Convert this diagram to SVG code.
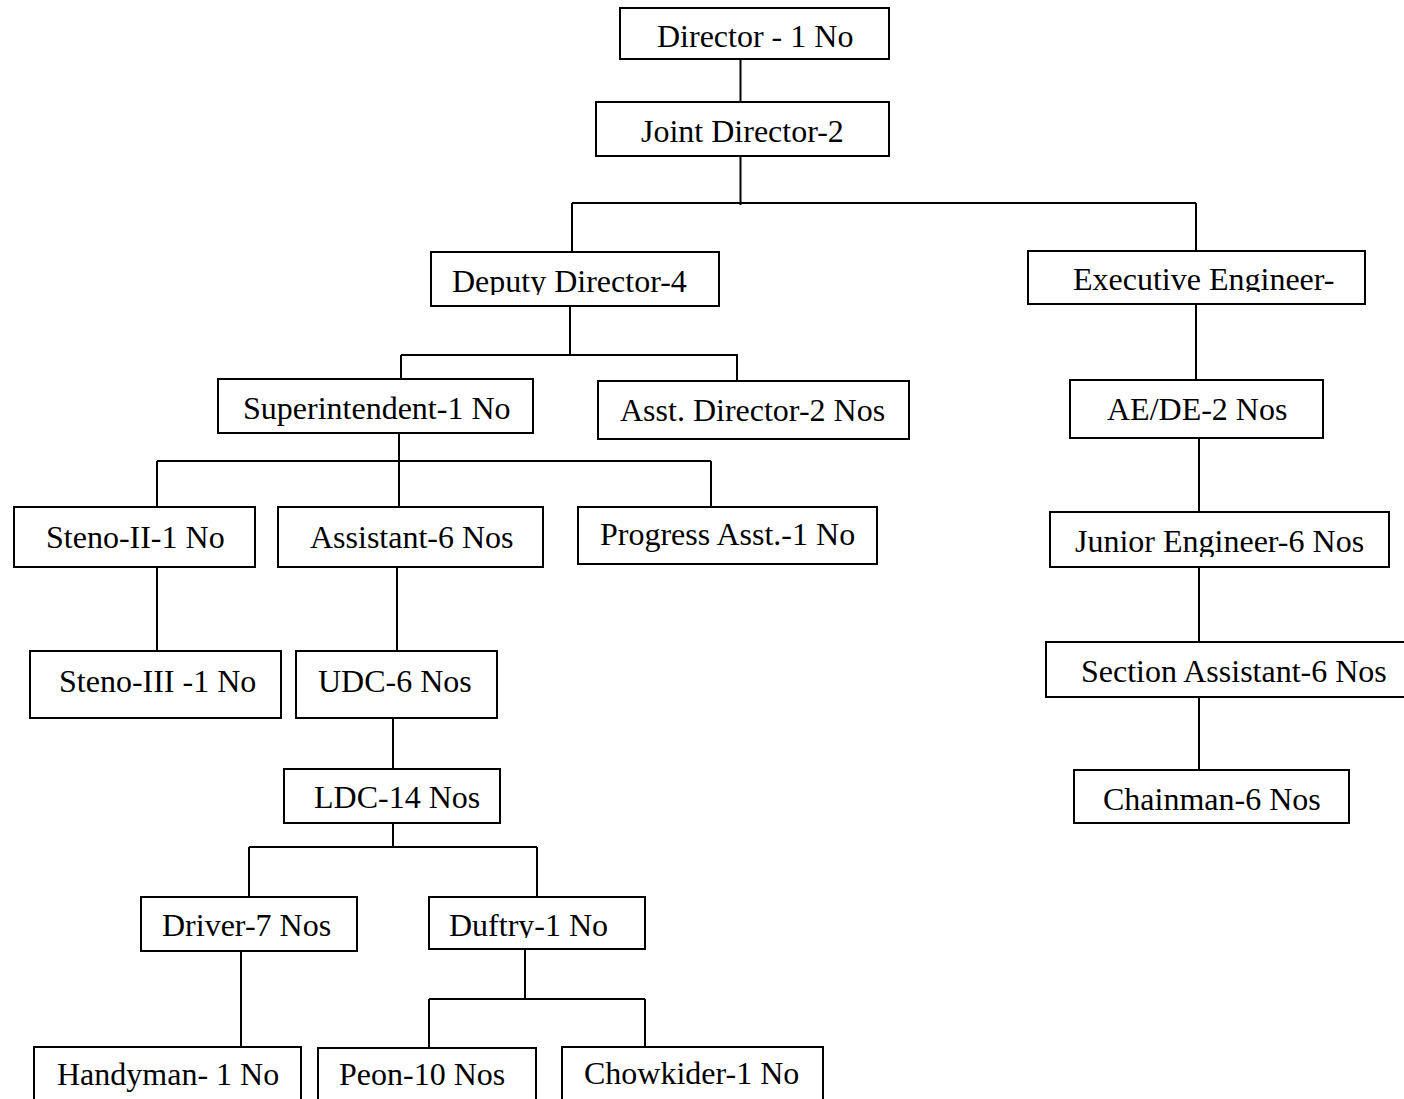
<svg xmlns="http://www.w3.org/2000/svg" width="1404" height="1099" viewBox="0 0 1404 1099">
  <style>
    .box { fill: #ffffff; stroke: #000000; stroke-width: 2; }
    .lbl { font-family: "Liberation Serif", "Times New Roman", serif; font-size: 32px; fill: #000000; }
    #connectors path { fill: none; stroke: #000000; stroke-width: 2; }
  </style>
  <defs>
    <!-- text frames that cut off descenders -->
    <clipPath id="clipDeputy"><rect x="431" y="252" width="288" height="43"/></clipPath>
    <clipPath id="clipExec"><rect x="1028" y="251" width="337" height="41"/></clipPath>
    <clipPath id="clipJunior"><rect x="1050" y="512" width="339" height="45"/></clipPath>
    <clipPath id="clipDuftry"><rect x="429" y="897" width="216" height="41"/></clipPath>
  </defs>
  <rect width="1404" height="1099" fill="#ffffff"/>

  <g id="connectors">
    <path d="M740.5 59 V102"/>
    <path d="M740.5 156 V205"/>
    <path d="M572 203 H1196"/>
    <path d="M572 203 V252"/>
    <path d="M1196 203 V251"/>
    <path d="M570 306 V355"/>
    <path d="M401 355 H738"/>
    <path d="M401 355 V379"/>
    <path d="M737 355 V381"/>
    <path d="M1196 304 V380"/>
    <path d="M1199 438 V512"/>
    <path d="M1199 567 V642"/>
    <path d="M1199 697 V770"/>
    <path d="M399 433 V461"/>
    <path d="M157 461 H711"/>
    <path d="M157 461 V507"/>
    <path d="M399 461 V507"/>
    <path d="M711 461 V507"/>
    <path d="M157 567 V651"/>
    <path d="M397 567 V651"/>
    <path d="M393 718 V769"/>
    <path d="M393 823 V847"/>
    <path d="M249 847 H537"/>
    <path d="M249 847 V897"/>
    <path d="M537 847 V897"/>
    <path d="M241 951 V1047"/>
    <path d="M525 949 V999"/>
    <path d="M429 999 H645"/>
    <path d="M429 999 V1048"/>
    <path d="M645 999 V1047"/>
  </g>

  <g id="director">
    <rect class="box" x="620" y="8" width="269" height="51"/>
    <text class="lbl" x="657" y="47">Director - 1 No</text>
  </g>
  <g id="joint-director">
    <rect class="box" x="596" y="102" width="293" height="54"/>
    <text class="lbl" x="641" y="142">Joint Director-2</text>
  </g>
  <g id="deputy-director">
    <rect class="box" x="431" y="252" width="288" height="54"/>
    <text class="lbl" x="452" y="292" clip-path="url(#clipDeputy)">Deputy Director-4</text>
  </g>
  <g id="executive-engineer">
    <rect class="box" x="1028" y="251" width="337" height="53"/>
    <text class="lbl" x="1073" y="290" clip-path="url(#clipExec)">Executive Engineer-</text>
  </g>
  <g id="superintendent">
    <rect class="box" x="218" y="379" width="315" height="54"/>
    <text class="lbl" x="243" y="419">Superintendent-1 No</text>
  </g>
  <g id="asst-director">
    <rect class="box" x="598" y="381" width="311" height="58"/>
    <text class="lbl" x="620" y="421">Asst. Director-2 Nos</text>
  </g>
  <g id="ae-de">
    <rect class="box" x="1070" y="380" width="253" height="58"/>
    <text class="lbl" x="1107" y="420">AE/DE-2 Nos</text>
  </g>
  <g id="steno-ii">
    <rect class="box" x="14" y="507" width="241" height="60"/>
    <text class="lbl" x="46" y="548">Steno-II-1 No</text>
  </g>
  <g id="assistant">
    <rect class="box" x="278" y="507" width="265" height="60"/>
    <text class="lbl" x="310" y="548">Assistant-6 Nos</text>
  </g>
  <g id="progress-asst">
    <rect class="box" x="578" y="507" width="299" height="57"/>
    <text class="lbl" x="600" y="545">Progress Asst.-1 No</text>
  </g>
  <g id="junior-engineer">
    <rect class="box" x="1050" y="512" width="339" height="55"/>
    <text class="lbl" x="1075" y="552" clip-path="url(#clipJunior)">Junior Engineer-6 Nos</text>
  </g>
  <g id="steno-iii">
    <rect class="box" x="30" y="651" width="251" height="67"/>
    <text class="lbl" x="59" y="692">Steno-III -1 No</text>
  </g>
  <g id="udc">
    <rect class="box" x="296" y="651" width="201" height="67"/>
    <text class="lbl" x="318" y="692">UDC-6 Nos</text>
  </g>
  <g id="section-assistant">
    <rect class="box" x="1046" y="642" width="380" height="55"/>
    <text class="lbl" x="1081" y="682">Section Assistant-6 Nos</text>
  </g>
  <g id="ldc">
    <rect class="box" x="284" y="769" width="216" height="54"/>
    <text class="lbl" x="314" y="808">LDC-14 Nos</text>
  </g>
  <g id="chainman">
    <rect class="box" x="1074" y="770" width="275" height="53"/>
    <text class="lbl" x="1103" y="810">Chainman-6 Nos</text>
  </g>
  <g id="driver">
    <rect class="box" x="141" y="897" width="216" height="54"/>
    <text class="lbl" x="162" y="936">Driver-7 Nos</text>
  </g>
  <g id="duftry">
    <rect class="box" x="429" y="897" width="216" height="52"/>
    <text class="lbl" x="449" y="936" clip-path="url(#clipDuftry)">Duftry-1 No</text>
  </g>
  <g id="handyman">
    <rect class="box" x="34" y="1047" width="267" height="80"/>
    <text class="lbl" x="57" y="1085">Handyman- 1 No</text>
  </g>
  <g id="peon">
    <rect class="box" x="318" y="1048" width="218" height="80"/>
    <text class="lbl" x="339" y="1085">Peon-10 Nos</text>
  </g>
  <g id="chowkider">
    <rect class="box" x="562" y="1047" width="261" height="80"/>
    <text class="lbl" x="584" y="1084">Chowkider-1 No</text>
  </g>
</svg>
